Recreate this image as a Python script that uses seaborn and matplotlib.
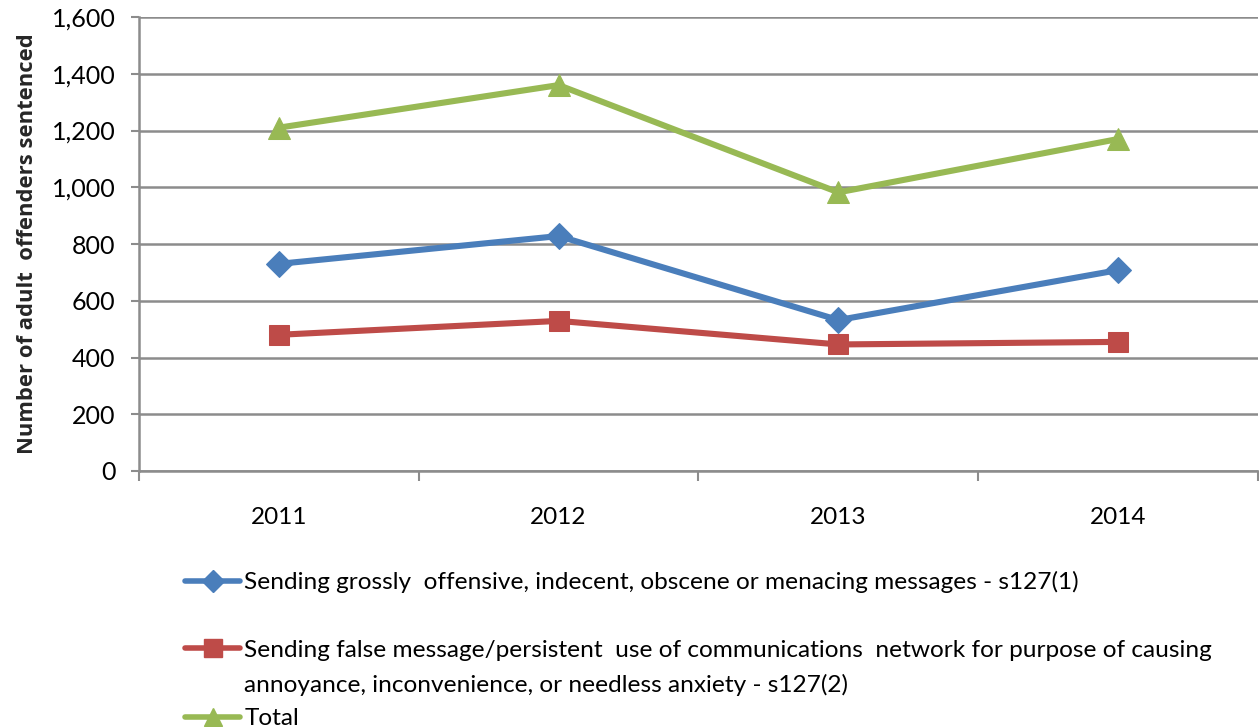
import matplotlib
matplotlib.use("Agg")
import matplotlib.pyplot as plt
import seaborn as sns
import pandas as pd
import numpy as np
from matplotlib.lines import Line2D
from matplotlib.ticker import FuncFormatter, FixedLocator

years = ["2011", "2012", "2013", "2014"]
s127_1 = [730, 828, 532, 708]
s127_2 = [480, 529, 446, 455]
total = [1210, 1360, 982, 1170]

label1 = "Sending grossly  offensive, indecent, obscene or menacing messages - s127(1)"
label2a = "Sending false message/persistent  use of communications  network for purpose of causing"
label2b = "annoyance, inconvenience, or needless anxiety - s127(2)"
label3 = "Total"

colors = ["#4A7EBB", "#BE4B48", "#98B954"]
markers = ["D", "s", "^"]
msizes = [13, 15, 16]

sns.set_theme(style="white")
plt.rcParams["font.family"] = ["Lato", "DejaVu Sans"]

fig = plt.figure(figsize=(12.59, 7.27), dpi=100)
ax = fig.add_axes([139/1259, 1 - 471/727, 1 - 139/1259 - 0.0008, (471 - 17)/727])

names = ["s127(1)", "s127(2)", "Total"]
df = pd.DataFrame({
    "x": np.tile(np.arange(len(years)), 3),
    "value": s127_1 + s127_2 + total,
    "series": np.repeat(names, len(years)),
})

handles = []
for name, c, m, ms in zip(names, colors, markers, msizes):
    sub = df[df["series"] == name]
    sns.lineplot(data=sub, x="x", y="value", ax=ax, color=c, linewidth=4.4,
                 marker=m, markersize=ms, markeredgecolor=c, legend=False)
    handles.append(Line2D([0], [0], color=c, linewidth=4.0, marker=m,
                          markersize=ms * 0.85, markeredgecolor=c))

ax.set_xlim(-0.5, 3.5)
ax.set_ylim(0, 1600)
ax.set_yticks(np.arange(0, 1601, 200))
ax.yaxis.set_major_formatter(FuncFormatter(lambda v, p: f"{int(v):,}"))
ax.grid(axis="y", color="#8C8C8C", linewidth=1.8)
ax.set_axisbelow(True)

ax.xaxis.set_major_locator(FixedLocator(np.arange(-0.5, 3.6, 1)))
ax.xaxis.set_major_formatter(FuncFormatter(lambda v, p: ""))
ax.xaxis.set_minor_locator(FixedLocator(np.arange(len(years))))
ax.set_xticklabels(years, minor=True)
ax.tick_params(axis="x", which="major", length=7, width=1.5, color="#8C8C8C", direction="out", bottom=True)
ax.tick_params(axis="x", which="minor", length=0, pad=26, labelsize=17.5, labelcolor="black")
ax.tick_params(axis="y", length=6, width=1.5, color="#8C8C8C", direction="out", left=True,
               labelsize=18, labelcolor="black", pad=11)

for s in ["top", "right"]:
    ax.spines[s].set_visible(False)
for s in ["left", "bottom"]:
    ax.spines[s].set_color("#8C8C8C")
    ax.spines[s].set_linewidth(1.8)

ax.set_xlabel("")
ax.set_ylabel("Number of adult  offenders sentenced", fontsize=15.8, fontweight="bold",
              family="Open Sans", labelpad=10)

blank = Line2D([0], [0], color="none")
leg = fig.legend([handles[0], blank, handles[1], blank, handles[2]],
                 [label1, " ", label2a, label2b, label3],
                 loc="upper left", bbox_to_anchor=(185/1259, 1 - 571/727),
                 frameon=False, fontsize=17.6, handlelength=2.25, handletextpad=0.17,
                 labelspacing=0.52, borderpad=0, borderaxespad=0)
for t in leg.get_texts():
    t.set_color("black")

fig.savefig("out.png", dpi=100)
